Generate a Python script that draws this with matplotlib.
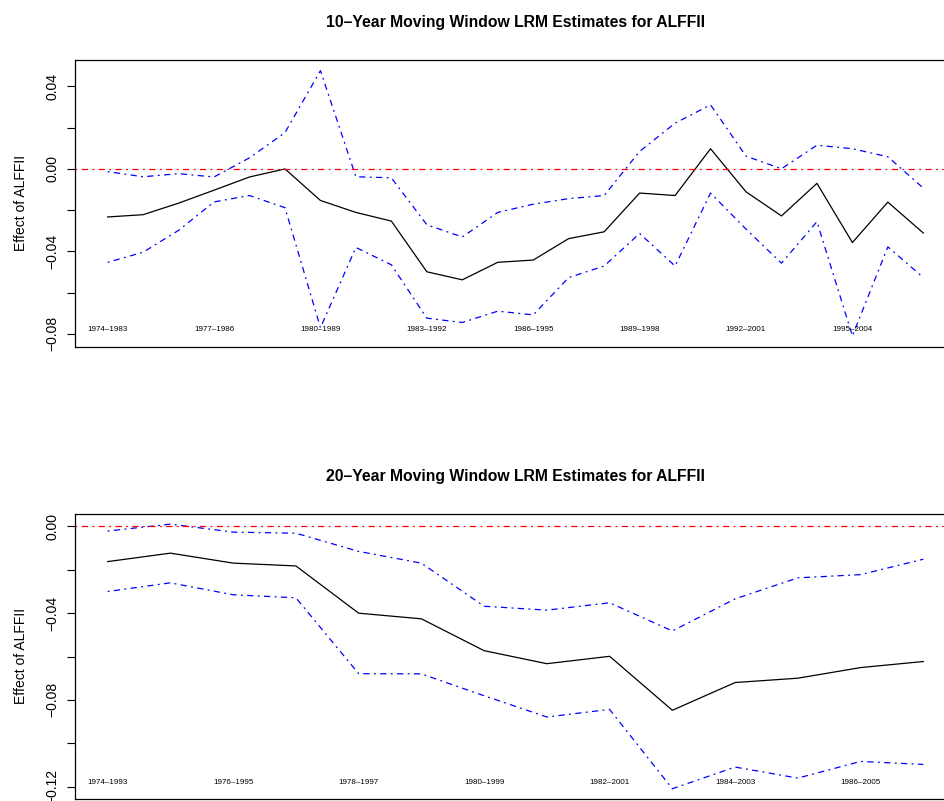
import matplotlib.pyplot as plt
import numpy as np

plt.rcParams["font.family"] = ["Liberation Sans", "DejaVu Sans"]

# 10-year windows: long-run multiplier estimate with upper / lower bounds
windows_10 = [f"{y}\u2013{y + 9}" for y in range(1974, 1998)]
lrm_10 = [-0.0233, -0.0222, -0.0166, -0.0103, -0.0039, 0.0000, -0.0153, -0.0211,
          -0.0253, -0.0499, -0.0538, -0.0453, -0.0442, -0.0338, -0.0305, -0.0117,
          -0.0129, 0.0098, -0.0111, -0.0228, -0.0070, -0.0357, -0.0161, -0.0311]
upper_10 = [-0.0013, -0.0038, -0.0023, -0.0039, 0.0054, 0.0176, 0.0477, -0.0038,
            -0.0043, -0.0271, -0.0330, -0.0211, -0.0171, -0.0144, -0.0129, 0.0085,
            0.0222, 0.0311, 0.0062, 0.0001, 0.0115, 0.0098, 0.0059, -0.0093]
lower_10 = [-0.0453, -0.0404, -0.0298, -0.0160, -0.0129, -0.0188, -0.0770, -0.0381,
            -0.0465, -0.0724, -0.0745, -0.0690, -0.0708, -0.0527, -0.0471, -0.0313,
            -0.0471, -0.0117, -0.0292, -0.0457, -0.0256, -0.0810, -0.0378, -0.0527]

# 20-year windows
windows_20 = [f"{y}\u2013{y + 19}" for y in range(1974, 1988)]
lrm_20 = [-0.0162, -0.0123, -0.0169, -0.0182, -0.0400, -0.0426, -0.0573,
          -0.0633, -0.0599, -0.0848, -0.0720, -0.0700, -0.0651, -0.0623]
upper_20 = [-0.0021, 0.0011, -0.0026, -0.0031, -0.0115, -0.0169, -0.0368,
            -0.0386, -0.0352, -0.0482, -0.0334, -0.0237, -0.0222, -0.0151]
lower_20 = [-0.0300, -0.0260, -0.0315, -0.0329, -0.0679, -0.0680, -0.0781,
            -0.0879, -0.0844, -0.1210, -0.1110, -0.1161, -0.1084, -0.1098]

DOTDASH = (0, (1.5, 3.5, 5, 3.5))


def padded(lo, hi, frac=0.04):
    pad = (hi - lo) * frac
    return lo - pad, hi + pad


def draw_panel(ax, windows, est, upper, lower, label_step, yticks, ylabels, title):
    x = np.arange(len(windows))
    ax.plot(x, est, color="black", lw=0.9)
    ax.plot(x, upper, color="blue", lw=0.9, linestyle=DOTDASH)
    ax.plot(x, lower, color="blue", lw=0.9, linestyle=DOTDASH)
    ax.axhline(0, color="red", lw=0.9, linestyle=DOTDASH)

    ax.set_xlim(*padded(0, len(windows) - 1))
    ax.set_ylim(*padded(min(lower), max(upper)))
    ax.set_xticks([])
    ax.set_yticks(yticks)
    ax.set_yticklabels(ylabels, rotation=90, va="center", fontsize=10)
    ax.tick_params(axis="y", length=6, width=0.8, pad=5)
    for side in ax.spines.values():
        side.set_linewidth(0.9)

    # window labels sit inside the plot, just above the bottom border
    ybot = ax.get_ylim()[0]
    yrange = ax.get_ylim()[1] - ybot
    for i in range(0, len(windows), label_step):
        ax.text(x[i], ybot + yrange * 0.06, windows[i], ha="center",
                va="center", fontsize=5.8)

    ax.set_ylabel("Effect of ALFFII", fontsize=10, labelpad=13)
    ax.set_title(title, fontsize=11.3, fontweight="bold", pad=23.5)


fig = plt.figure(figsize=(9.45, 8.01), dpi=100)
ax1 = fig.add_axes([0.0794, 0.5674, 0.9322, 0.3577])
ax2 = fig.add_axes([0.0794, 0.0021, 0.9322, 0.3568])

draw_panel(ax1, windows_10, lrm_10, upper_10, lower_10, 3,
           [-0.08, -0.06, -0.04, -0.02, 0.0, 0.02, 0.04],
           ["\u22120.08", "", "\u22120.04", "", "0.00", "", "0.04"],
           "10\u2013Year Moving Window LRM Estimates for ALFFII")
draw_panel(ax2, windows_20, lrm_20, upper_20, lower_20, 2,
           [-0.12, -0.10, -0.08, -0.06, -0.04, -0.02, 0.0],
           ["\u22120.12", "", "\u22120.08", "", "\u22120.04", "", "0.00"],
           "20\u2013Year Moving Window LRM Estimates for ALFFII")

fig.savefig("out.png", dpi=100)
